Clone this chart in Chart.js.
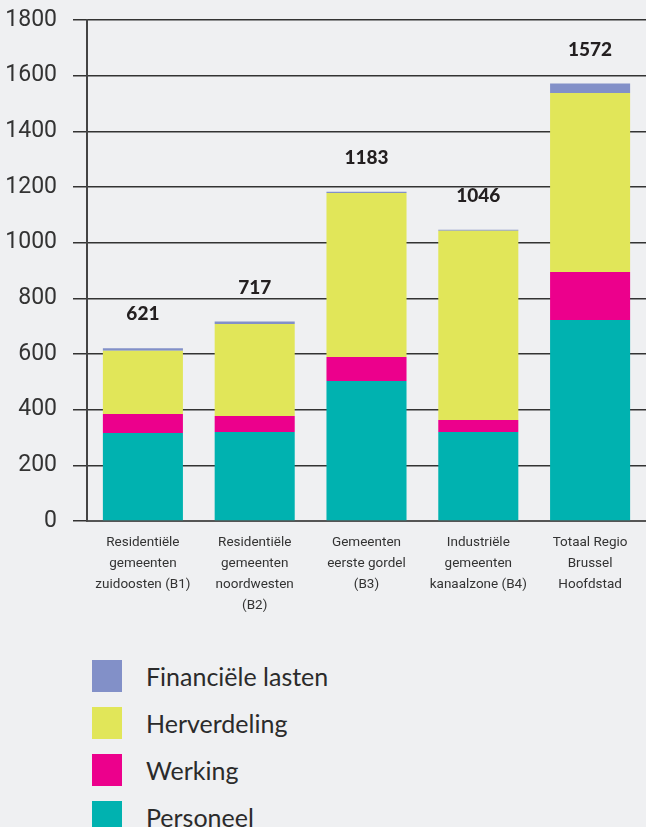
<!DOCTYPE html>
<html><head><meta charset="utf-8">
<script src="https://cdn.jsdelivr.net/npm/chart.js@4.4.1/dist/chart.umd.min.js"></script>
<style>
html,body{margin:0;padding:0;background:#eff0f2;width:646px;height:827px;overflow:hidden;}
#wrap{position:absolute;left:0;top:0;width:646px;height:640px;}
#legend{position:absolute;left:0;top:0;}
.item{position:absolute;left:92px;height:32px;display:flex;align-items:center;white-space:nowrap}
.box{width:30px;height:32px;flex:none}
.lab{margin-left:24px;font:25px Lato, sans-serif;color:#2b2b2b;}
</style></head><body>
<div id="wrap"><canvas id="c" width="646" height="640"></canvas></div>
<div id="legend"></div>
<script>
const categories = [
  ["Residentiële","gemeenten","zuidoosten (B1)"],
  ["Residentiële","gemeenten","noordwesten","(B2)"],
  ["Gemeenten","eerste gordel","(B3)"],
  ["Industriële","gemeenten","kanaalzone (B4)"],
  ["Totaal Regio","Brussel","Hoofdstad"]
];
const personeel        = [316, 320, 503, 320, 722];
const werking          = [68, 57, 86, 43, 173];
const herverdeling     = [228, 331, 589, 680, 643];
const financieleLasten = [9, 9, 5, 3, 34];
const totals           = [621, 717, 1183, 1046, 1572];
const yMin = 0, yMax = 1800, yStep = 200;

const seriesNames  = ["Personeel", "Werking", "Herverdeling", "Financiële lasten"];
const seriesColors = ["#00b2b0", "#ec008c", "#e1e659", "#8290c8"];
const seriesValues = [personeel, werking, herverdeling, financieleLasten];

const totalsPlugin = {
  id: 'totals',
  afterDatasetsDraw(chart) {
    const ctx = chart.ctx, xs = chart.scales.x, ys = chart.scales.y;
    ctx.save();
    ctx.font = '900 19px Lato, sans-serif';
    ctx.fillStyle = '#231f20';
    ctx.textAlign = 'center';
    ctx.textBaseline = 'middle';
    totals.forEach((t, i) => {
      ctx.fillText(String(t), xs.getPixelForValue(i), ys.getPixelForValue(t) - 34);
    });
    ctx.restore();
  }
};

new Chart(document.getElementById('c'), {
  type: 'bar',
  data: {
    labels: categories,
    datasets: seriesNames.map((n, i) => ({
      label: n, data: seriesValues[i], backgroundColor: seriesColors[i],
      borderWidth: 0, categoryPercentage: 1, barPercentage: 0.716, stack: 's'
    }))
  },
  options: {
    responsive: false, animation: false,
    layout: { autoPadding: false, padding: { top: 20, right: 0, left: 0, bottom: 0 } },
    plugins: { legend: { display: false }, tooltip: { enabled: false } },
    scales: {
      x: {
        stacked: true,
        grid: { display: false, drawTicks: false },
        border: { display: true, color: '#555', width: 2 },
        ticks: { color: '#333', padding: 11, maxRotation: 0, autoSkip: false,
          font: { family: 'Roboto, sans-serif', size: 13.5, lineHeight: 1.55 } },
        afterFit(s) { s.height = 119; }
      },
      y: {
        stacked: true, min: yMin, max: yMax,
        grid: { color: '#333', lineWidth: 1.5, tickLength: 14, drawTicks: true },
        border: { display: true, color: '#444', width: 2 },
        ticks: { stepSize: yStep, color: '#333', padding: 16,
          callback: v => String(v),
          font: { family: 'Roboto, sans-serif', size: 23 } },
        afterFit(s) { s.width = 87; s.paddingTop = 12; s.paddingBottom = 12; }
      }
    }
  },
  plugins: [totalsPlugin]
});

const leg = document.getElementById('legend');
for (let k = seriesNames.length - 1, r = 0; k >= 0; k--, r++) {
  const it = document.createElement('div');
  it.className = 'item';
  it.style.top = (660 + r * 47) + 'px';
  it.innerHTML = '<div class="box" style="background:' + seriesColors[k] + '"></div><span class="lab">' + seriesNames[k] + '</span>';
  leg.appendChild(it);
}
</script>
</body></html>
